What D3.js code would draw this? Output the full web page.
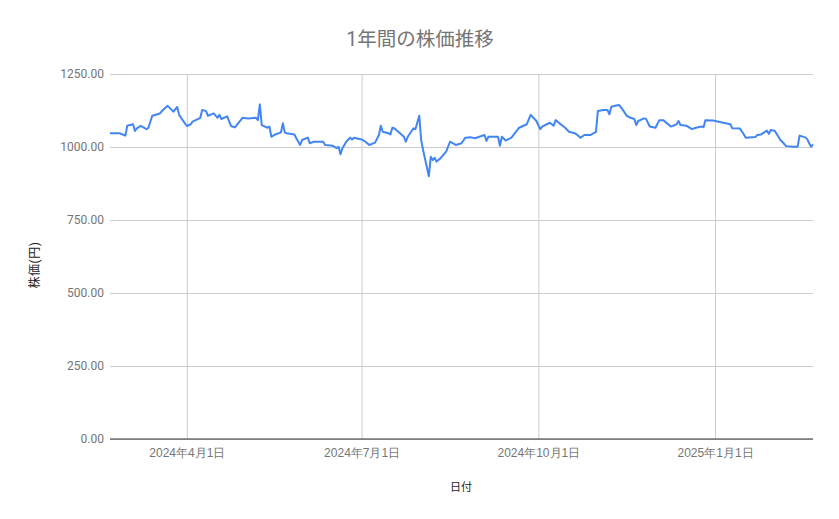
<!DOCTYPE html>
<html>
<head>
<meta charset="utf-8">
<script src="https://cdn.jsdelivr.net/npm/d3@7"></script>
<style>
  html, body { margin: 0; padding: 0; background: #fff; }
  svg { display: block; font-family: Roboto, "Noto Sans CJK JP", sans-serif; }
</style>
</head>
<body>
<svg id="chart" width="839" height="519"></svg>
<script>
// ── Data ──
const TITLE = '1年間の株価推移';
const X_LABEL = '日付';
const Y_LABEL = '株価(円)';

const dates = [
  '2024-02-21','2024-02-26','2024-02-29','2024-03-01','2024-03-04','2024-03-05','2024-03-06','2024-03-08',
  '2024-03-11','2024-03-12','2024-03-14','2024-03-18','2024-03-19','2024-03-22','2024-03-25','2024-03-27',
  '2024-03-28','2024-03-29','2024-04-01','2024-04-03','2024-04-04','2024-04-08','2024-04-09','2024-04-11',
  '2024-04-12','2024-04-15','2024-04-17','2024-04-18','2024-04-19','2024-04-22','2024-04-24','2024-04-26',
  '2024-04-30','2024-05-03','2024-05-07','2024-05-08','2024-05-09','2024-05-10','2024-05-13','2024-05-14',
  '2024-05-15','2024-05-17','2024-05-20','2024-05-21','2024-05-22','2024-05-23','2024-05-27','2024-05-28',
  '2024-05-30','2024-05-31','2024-06-03','2024-06-04','2024-06-06','2024-06-11','2024-06-12','2024-06-16',
  '2024-06-18','2024-06-19','2024-06-20','2024-06-21','2024-06-23','2024-06-25','2024-06-26','2024-06-27',
  '2024-07-01','2024-07-03','2024-07-05','2024-07-08','2024-07-10','2024-07-11','2024-07-12','2024-07-15',
  '2024-07-16','2024-07-17','2024-07-18','2024-07-22','2024-07-23','2024-07-24','2024-07-25','2024-07-28',
  '2024-07-29','2024-07-31','2024-08-01','2024-08-02','2024-08-05','2024-08-06','2024-08-07','2024-08-08',
  '2024-08-09','2024-08-11','2024-08-14','2024-08-16','2024-08-19','2024-08-22','2024-08-24','2024-08-27',
  '2024-08-29','2024-09-03','2024-09-04','2024-09-05','2024-09-10','2024-09-11','2024-09-12','2024-09-14',
  '2024-09-17','2024-09-21','2024-09-23','2024-09-25','2024-09-27','2024-09-30','2024-10-02','2024-10-03',
  '2024-10-07','2024-10-09','2024-10-10','2024-10-12','2024-10-15','2024-10-17','2024-10-20','2024-10-21',
  '2024-10-23','2024-10-25','2024-10-28','2024-10-31','2024-11-01','2024-11-04','2024-11-06','2024-11-07',
  '2024-11-08','2024-11-10','2024-11-12','2024-11-14','2024-11-16','2024-11-18','2024-11-20','2024-11-21',
  '2024-11-22','2024-11-25','2024-11-26','2024-11-28','2024-12-01','2024-12-03','2024-12-05','2024-12-09',
  '2024-12-12','2024-12-13','2024-12-14','2024-12-17','2024-12-20','2024-12-22','2024-12-25','2024-12-26',
  '2024-12-27','2024-12-31','2025-01-04','2025-01-09','2025-01-10','2025-01-14','2025-01-16','2025-01-17',
  '2025-01-22','2025-01-23','2025-01-25','2025-01-28','2025-01-29','2025-01-30','2025-02-01','2025-02-03',
  '2025-02-04','2025-02-05','2025-02-07','2025-02-11','2025-02-13','2025-02-14','2025-02-17','2025-02-18',
  '2025-02-19','2025-02-20','2025-02-21'
];

const prices = [
  1047,1047,1039,1073,1078,1055,1064,1072,
  1061,1066,1107,1115,1123,1141,1121,1137,
  1110,1100,1072,1078,1087,1100,1127,1123,
  1107,1115,1100,1110,1096,1105,1072,1067,
  1100,1098,1100,1092,1146,1075,1066,1070,
  1035,1043,1050,1081,1050,1047,1043,1030,
  1007,1024,1032,1013,1018,1018,1007,1004,
  996,1001,975,996,1018,1032,1026,1032,
  1026,1018,1007,1015,1041,1073,1052,1047,
  1043,1066,1064,1041,1035,1018,1035,1064,
  1061,1107,1024,990,900,967,955,963,
  950,961,984,1018,1007,1013,1032,1033,
  1030,1041,1021,1035,1035,1004,1035,1022,
  1032,1066,1072,1078,1110,1089,1061,1070,
  1083,1073,1092,1081,1066,1052,1047,1043,
  1032,1041,1041,1052,1123,1127,1127,1112,
  1138,1141,1144,1127,1107,1100,1096,1075,
  1089,1098,1097,1070,1066,1092,1092,1070,
  1078,1089,1075,1073,1061,1066,1070,1068,
  1092,1091,1085,1078,1064,1063,1043,1032,
  1034,1041,1043,1056,1045,1058,1056,1035,
  1024,1018,1003,1001,1001,1039,1033,1027,
  1013,1001,1009
];

const yTicks = [0, 250, 500, 750, 1000, 1250];

// ── Layout ──
const W = 839, H = 519;
const M = { left: 110, right: 26, top: 74, bottom: 80 };

const parse = d3.timeParse('%Y-%m-%d');
const series = dates.map((d, i) => ({ date: parse(d), value: prices[i] }));

const x = d3.scaleTime()
  .domain(d3.extent(series, (d) => d.date))
  .range([M.left, W - M.right]);

const y = d3.scaleLinear()
  .domain([0, 1250])
  .range([H - M.bottom, M.top]);

const svg = d3.select('#chart');

// title
svg.append('text')
  .attr('x', 420).attr('y', 46)
  .attr('text-anchor', 'middle')
  .attr('fill', '#757575')
  .attr('font-size', 19.5)
  .text(TITLE);

// horizontal grid
const yAxis = svg.append('g')
  .attr('transform', `translate(${M.left},0)`)
  .call(d3.axisLeft(y).tickValues(yTicks).tickFormat(d3.format('.2f'))
    .tickSize(-(W - M.left - M.right)).tickPadding(6));
yAxis.select('.domain').remove();
yAxis.selectAll('line').attr('stroke', '#cccccc');
yAxis.selectAll('text').attr('fill', '#757575').attr('font-size', 12)
  .attr('font-family', 'Roboto, sans-serif');

// vertical grid + date labels
const xAxis = svg.append('g')
  .attr('transform', `translate(0,${H - M.bottom})`)
  .call(d3.axisBottom(x).ticks(d3.timeMonth.every(3))
    .tickFormat((d) => `${d.getFullYear()}年${d.getMonth() + 1}月${d.getDate()}日`)
    .tickSize(-(H - M.top - M.bottom)).tickPadding(9));
xAxis.select('.domain').remove();
xAxis.selectAll('line').attr('stroke', '#cccccc');
xAxis.selectAll('text').attr('fill', '#757575').attr('font-size', 12);

// zero baseline
svg.append('line')
  .attr('x1', M.left).attr('x2', W - M.right)
  .attr('y1', y(0)).attr('y2', y(0))
  .attr('stroke', '#333').attr('stroke-width', 1.2);

// price line
const line = d3.line()
  .x((d) => x(d.date))
  .y((d) => y(d.value));

svg.append('path')
  .datum(series)
  .attr('fill', 'none')
  .attr('stroke', '#4285f4')
  .attr('stroke-width', 2)
  .attr('stroke-linejoin', 'round')
  .attr('d', line);

// axis titles
svg.append('text')
  .attr('x', 461).attr('y', 491)
  .attr('text-anchor', 'middle')
  .attr('fill', '#222')
  .attr('font-size', 11)
  .text(X_LABEL);

svg.append('text')
  .attr('transform', 'translate(39,265) rotate(-90)')
  .attr('text-anchor', 'middle')
  .attr('fill', '#222')
  .attr('font-size', 12)
  .attr('letter-spacing', 0.5)
  .text(Y_LABEL);
</script>
</body>
</html>
